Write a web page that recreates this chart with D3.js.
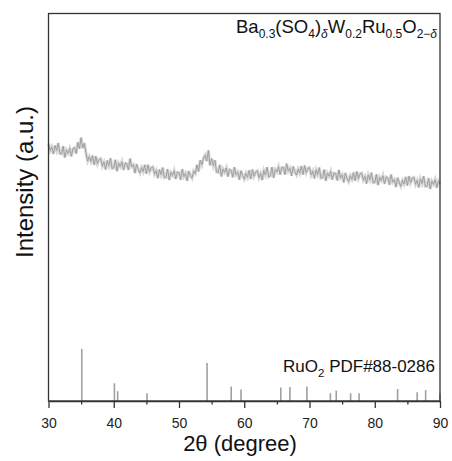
<!DOCTYPE html>
<html lang="en">

<head>
  <meta charset="UTF-8">
  <title>XRD pattern</title>
  <script src="https://d3js.org/d3.v7.min.js"></script>
  <style>
    body {
      margin: 0;
      background: #fff;
    }
    svg {
      display: block;
      font-family: "Liberation Sans", Arial, sans-serif;
    }
  </style>
</head>

<body>

  <div id="chart"></div>

  <script>
    // measured pattern: 2theta from 30 to 90, step 0.25
    var thetaStart = 30;
    var thetaStep = 0.25;
    var intensity = [
      66.2, 64.4, 65.3, 63.5, 65.7, 64.4, 66.3, 63.6,
      63.5, 65.5, 62.6, 64.5, 63.7, 64.9, 62.9, 64.9,
      65.1, 63.6, 66.5, 64.9, 67.7, 65.0, 66.3, 63.7,
      61.7, 62.8, 61.6, 63.1, 60.7, 62.9, 61.0, 62.1,
      62.3, 60.4, 61.4, 59.5, 61.8, 60.5, 62.4, 59.8,
      59.9, 62.0, 59.1, 61.1, 60.3, 61.5, 59.4, 61.1,
      61.0, 59.4, 62.3, 60.3, 60.7, 58.6, 60.9, 59.5,
      58.6, 60.0, 59.0, 60.7, 58.4, 60.7, 58.9, 60.0,
      60.2, 58.3, 59.2, 57.3, 59.5, 58.2, 60.0, 57.4,
      57.5, 59.6, 56.8, 58.7, 58.0, 59.2, 57.1, 58.8,
      58.7, 56.9, 59.6, 57.7, 58.5, 56.6, 59.1, 57.9,
      57.3, 59.1, 58.5, 60.7, 59.0, 61.9, 60.7, 62.4,
      63.2, 61.7, 64.4, 60.6, 62.3, 60.5, 61.9, 58.9,
      58.7, 60.7, 57.7, 59.6, 58.8, 59.9, 57.7, 59.5,
      59.3, 57.5, 60.1, 58.2, 58.8, 56.9, 59.2, 57.9,
      57.0, 58.5, 57.5, 59.3, 57.1, 59.5, 57.8, 58.9,
      59.2, 57.4, 58.5, 56.8, 59.2, 58.1, 60.1, 57.6,
      57.9, 60.1, 57.4, 59.5, 58.9, 60.2, 58.2, 60.0,
      60.0, 58.2, 61.0, 59.1, 59.8, 57.9, 60.3, 58.9,
      58.1, 59.6, 58.6, 60.4, 58.2, 60.5, 58.7, 59.8,
      60.0, 58.1, 59.1, 57.2, 59.4, 58.2, 60.0, 57.3,
      57.4, 59.5, 56.6, 58.6, 57.8, 59.0, 56.9, 58.6,
      58.5, 56.7, 59.4, 57.4, 58.1, 56.2, 58.6, 57.2,
      56.4, 57.9, 57.0, 58.7, 56.6, 59.0, 57.2, 58.4,
      58.6, 56.8, 57.7, 55.9, 58.1, 56.9, 58.7, 56.1,
      56.2, 58.3, 55.5, 57.5, 56.7, 57.9, 55.8, 57.6,
      57.4, 55.6, 58.2, 56.3, 56.9, 55.0, 57.4, 56.1,
      55.2, 56.7, 55.8, 57.6, 55.4, 57.8, 56.1, 57.3,
      57.5, 55.7, 56.7, 54.9, 57.1, 55.9, 57.8, 55.2,
      55.2, 57.3, 54.5, 56.5, 55.7, 56.9, 54.8, 56.5,
      55.7
    ];

    // RuO2 reference card PDF#88-0286
    var refPos = [35.1, 40.1, 40.6, 45.1, 54.3, 58.0, 59.5, 65.6, 67.0, 69.6, 73.2, 74.1, 76.3, 77.6, 83.5, 86.5, 87.8, 90.0];
    var refRel = [100, 34, 19, 15, 73, 28, 22, 26, 27, 28, 15, 20, 15, 15, 23, 17, 21, 15];

    var majorTicks = [30, 40, 50, 60, 70, 80, 90];
    var minorTicks = [35, 45, 55, 65, 75, 85];

    var W = 452, H = 461;
    var mLeft = 48.5, mRight = 440, mTop = 13.5, mBottom = 401;

    var svg = d3.select("#chart").append("svg")
      .attr("width", W)
      .attr("height", H);

    var x = d3.scaleLinear().domain([30, 90]).range([mLeft, mRight]);
    var y = d3.scaleLinear().domain([0, 100]).range([401, 12]);
    var refY = d3.scaleLinear().domain([0, 100]).range([mBottom, mBottom - 52]);

    var pts = intensity.map(function (v, i) {
      return [thetaStart + i * thetaStep, v];
    });

    var line = d3.line()
      .x(d => x(d[0]))
      .y(d => y(d[1]));

    // halo then core line
    svg.append("path")
      .datum(pts)
      .attr("d", line)
      .attr("fill", "none")
      .attr("stroke", "#d6d6d6")
      .attr("stroke-width", 3);

    svg.append("path")
      .datum(pts)
      .attr("d", line)
      .attr("fill", "none")
      .attr("stroke", "#9a9a9a")
      .attr("stroke-width", 0.9);

    // reference sticks
    svg.append("g").selectAll("line")
      .data(refPos)
      .enter()
      .append("line")
      .attr("x1", d => x(d))
      .attr("x2", d => x(d))
      .attr("y1", mBottom)
      .attr("y2", (d, i) => refY(refRel[i]))
      .attr("stroke", "#a0a0a0")
      .attr("stroke-width", 1.6);

    // frame
    svg.append("rect")
      .attr("x", mLeft)
      .attr("y", mTop)
      .attr("width", mRight - mLeft)
      .attr("height", mBottom - mTop)
      .attr("fill", "none")
      .attr("stroke", "#333")
      .attr("stroke-width", 1.3);

    // x axis
    var ax = svg.append("g")
      .attr("transform", "translate(0," + mBottom + ")")
      .call(d3.axisBottom(x).tickValues(majorTicks).tickSize(7).tickPadding(10).tickSizeOuter(0));
    ax.select(".domain").attr("stroke", "#333").attr("stroke-width", 1.3);
    ax.selectAll(".tick line").attr("stroke", "#333").attr("stroke-width", 1.3);
    ax.selectAll(".tick text")
      .attr("font-size", 14)
      .attr("fill", "#222")
      .attr("font-family", "Liberation Sans, Arial, sans-serif");

    var axm = svg.append("g")
      .attr("transform", "translate(0," + mBottom + ")")
      .call(d3.axisBottom(x).tickValues(minorTicks).tickSize(3.5).tickFormat(""));
    axm.select(".domain").remove();
    axm.selectAll(".tick line").attr("stroke", "#333").attr("stroke-width", 1.3);

    // axis titles
    svg.append("text")
      .attr("x", 240)
      .attr("y", 451)
      .attr("text-anchor", "middle")
      .attr("font-size", 22)
      .attr("fill", "#111")
      .text("2θ (degree)");

    svg.append("text")
      .attr("transform", "rotate(-90)")
      .attr("x", -182)
      .attr("y", 33)
      .attr("text-anchor", "middle")
      .attr("font-size", 24)
      .attr("fill", "#111")
      .text("Intensity (a.u.)");

    // sample label with subscripts
    var title = svg.append("text")
      .attr("x", 437)
      .attr("y", 33)
      .attr("text-anchor", "end")
      .attr("font-size", 18.5)
      .attr("fill", "#111");
    var titleParts = [
      ["Ba", 0], ["0.3", 1], ["(SO", 0], ["4", 1], [")", 0], ["δ", 1, 1],
      ["W", 0], ["0.2", 1], ["Ru", 0], ["0.5", 1], ["O", 0], ["2−", 1], ["δ", 1, 1]
    ];
    var shifted = false;
    titleParts.forEach(function (p) {
      var t = title.append("tspan").text(p[0]);
      if (p[1]) {
        t.attr("font-size", 12).attr("dy", shifted ? 0 : 5);
        if (p[2]) t.attr("font-style", "italic");
        shifted = true;
      } else {
        t.attr("dy", shifted ? -5 : 0);
        shifted = false;
      }
    });

    var refLabel = svg.append("text")
      .attr("x", 435)
      .attr("y", 372)
      .attr("text-anchor", "end")
      .attr("font-size", 17)
      .attr("fill", "#111");
    refLabel.append("tspan").text("RuO");
    refLabel.append("tspan").text("2").attr("font-size", 11.5).attr("dy", 5);
    refLabel.append("tspan").text(" PDF#88-0286").attr("dy", -5);
  </script>

</body>

</html>
